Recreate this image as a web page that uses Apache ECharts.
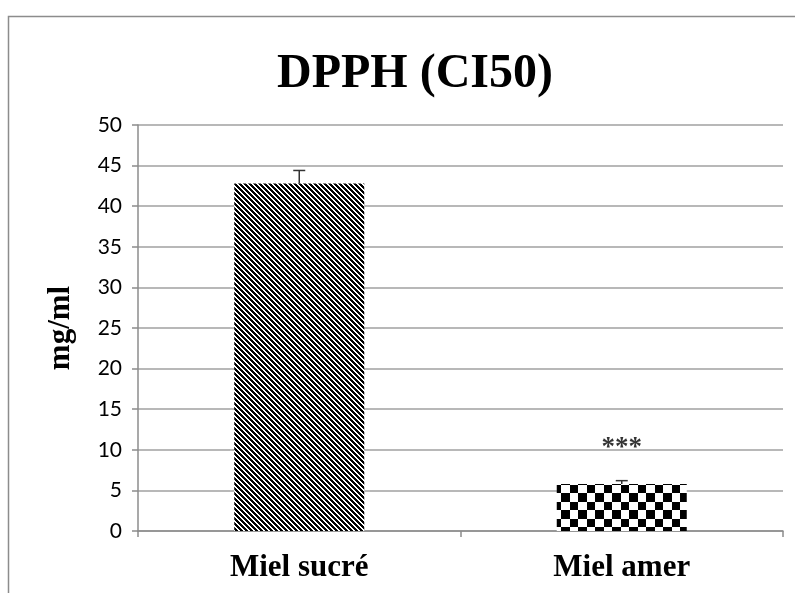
<!DOCTYPE html>
<html>
<head>
<meta charset="utf-8">
<script src="https://cdn.jsdelivr.net/npm/echarts@6/dist/echarts.min.js"></script>
<style>
  html, body { margin: 0; padding: 0; background: #fff; }
  #chart { width: 795px; height: 593px; }
</style>
</head>
<body>
<div id="chart"></div>
<script>
  // chart data
  const categories = ["Miel sucré", "Miel amer"];
  const meanValues = [42.8, 5.8];
  const errorValues = [1.6, 0.4];
  const sigMarks = ["", "***"];
  const sigLevel = [null, 10.2];

  // hatch "\\\\" pattern, drawn pixel by pixel so it stays crisp
  function makeHatch() {
    const c = document.createElement("canvas");
    const p = 5;
    c.width = p; c.height = p;
    const ctx = c.getContext("2d");
    ctx.fillStyle = "#fff";
    ctx.fillRect(0, 0, p, p);
    ctx.fillStyle = "#000";
    for (let y = 0; y < p; y++) {
      for (let x = 0; x < p; x++) {
        if (((x - y) % p + p) % p < 3) ctx.fillRect(x, y, 1, 1);
      }
    }
    return c;
  }
  // checkerboard pattern
  function makeChecker() {
    const c = document.createElement("canvas");
    c.width = 17; c.height = 17;
    const ctx = c.getContext("2d");
    ctx.fillStyle = "#fff";
    ctx.fillRect(0, 0, 17, 17);
    ctx.fillStyle = "#000";
    ctx.fillRect(0, 0, 9, 9);
    ctx.fillRect(9, 9, 8, 8);
    return c;
  }
  const patterns = [makeHatch(), makeChecker()];

  const chart = echarts.init(document.getElementById("chart"), null, { renderer: "canvas" });
  const option = {
    animation: false,
    title: {
      text: "DPPH (CI50)",
      left: 272,
      top: 46,
      textStyle: {
        fontFamily: "Liberation Serif",
        fontWeight: "bold",
        fontSize: 48,
        color: "#000"
      }
    },
    graphic: [{
      type: "rect",
      silent: true,
      shape: { x: 8.5, y: 16.5, width: 1000, height: 1000 },
      style: { fill: null, stroke: "#8c8c8c", lineWidth: 1.5 }
    }],
    grid: { left: 138, right: 12, top: 125, bottom: 62 },
    xAxis: {
      type: "category",
      data: categories,
      axisLine: { lineStyle: { color: "#8c8c8c", width: 1.5 } },
      axisTick: { show: true, length: 6, lineStyle: { color: "#8c8c8c", width: 1.5 } },
      axisLabel: {
        margin: 21,
        fontFamily: "Liberation Serif",
        fontWeight: "bold",
        fontSize: 31,
        color: "#000"
      }
    },
    yAxis: {
      type: "value",
      min: 0,
      max: 50,
      interval: 5,
      name: "mg/ml",
      nameLocation: "middle",
      nameGap: 62,
      nameRotate: 90,
      nameTextStyle: {
        fontFamily: "Liberation Serif",
        fontWeight: "bold",
        fontSize: 31,
        color: "#000"
      },
      axisLine: { show: true, lineStyle: { color: "#8c8c8c", width: 1.5 } },
      axisTick: { show: true, length: 6, lineStyle: { color: "#8c8c8c", width: 1.5 } },
      axisLabel: {
        margin: 16,
        fontFamily: "Lato",
        fontSize: 21,
        color: "#000"
      },
      splitLine: { lineStyle: { color: "#a0a0a0", width: 1.5 } }
    },
    series: [
      {
        type: "bar",
        barWidth: 130,
        data: meanValues.map((v, i) => ({
          value: v,
          itemStyle: { color: { image: patterns[i], repeat: "repeat" } }
        }))
      },
      {
        type: "custom",
        silent: true,
        data: meanValues.map((v, i) => [i, v, v + errorValues[i]]),
        renderItem: function (params, api) {
          const bottom = api.coord([api.value(0), api.value(1)]);
          const top = api.coord([api.value(0), api.value(2)]);
          const half = 6;
          const style = { stroke: "#333", lineWidth: 1.5 };
          return {
            type: "group",
            children: [
              { type: "line", shape: { x1: top[0], y1: top[1], x2: bottom[0], y2: bottom[1] }, style: style },
              { type: "line", shape: { x1: top[0] - half, y1: top[1], x2: top[0] + half, y2: top[1] }, style: style }
            ]
          };
        },
        z: 5
      },
      {
        type: "scatter",
        silent: true,
        symbolSize: 0,
        data: sigLevel.map((v, i) => (v == null ? null : [i, v])),
        label: {
          show: true,
          position: "inside",
          formatter: p => sigMarks[p.dataIndex],
          fontFamily: "Liberation Serif",
          fontWeight: "bold",
          fontSize: 27,
          color: "#000"
        }
      }
    ]
  };
  chart.setOption(option);
</script>
</body>
</html>
